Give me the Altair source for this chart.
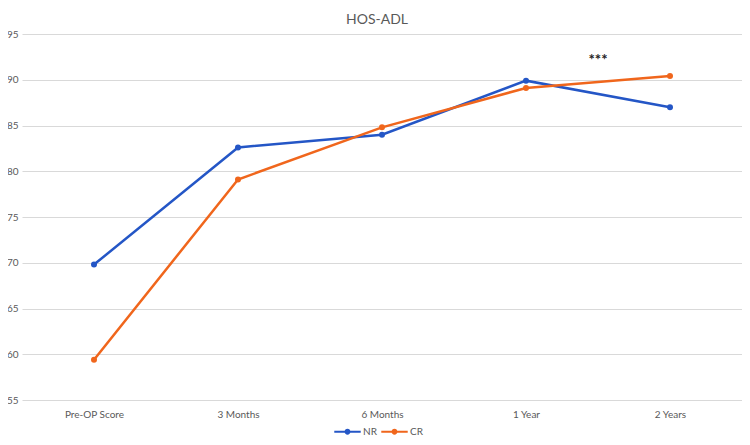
import json
import altair as alt
import pandas as pd

categories = ["Pre-OP Score", "3 Months", "6  Months", "1 Year", "2 Years"]
nr_values = [69.8, 82.6, 84.0, 89.9, 87.0]
cr_values = [59.4, 79.1, 84.8, 89.1, 90.4]
series_names = ["NR", "CR"]
series_colors = ["#2456C6", "#F0661C"]
y_ticks = [55, 60, 65, 70, 75, 80, 85, 90, 95]
annotation_text = ["***"]
annotation_x = [3.5]
annotation_y = [92.2]

rows = []
for i, c in enumerate(categories):
    rows.append({"idx": i, "cat": c, "series": "NR", "value": nr_values[i]})
    rows.append({"idx": i, "cat": c, "series": "CR", "value": cr_values[i]})
df = pd.DataFrame(rows)
ann = pd.DataFrame({"x": annotation_x, "y": annotation_y, "t": annotation_text})

FONT = "Lato"
GREY = "#595959"
label_expr = json.dumps(categories) + "[datum.value]"

x_enc = alt.X(
    "idx:Q",
    scale=alt.Scale(domain=[-0.5, 4.5], nice=False, zero=False),
    axis=alt.Axis(values=list(range(len(categories))), labelExpr=label_expr,
                  grid=False, ticks=False, domain=False, title=None,
                  labelColor=GREY, labelFontSize=10, labelFont=FONT, labelPadding=9),
)
y_enc = alt.Y(
    "value:Q",
    scale=alt.Scale(domain=[55, 95], nice=False, zero=False),
    axis=alt.Axis(values=y_ticks, grid=True, gridColor="#d9d9d9", gridWidth=1,
                  ticks=False, domain=False, title=None, labelColor=GREY,
                  labelFontSize=10, labelFont=FONT, labelPadding=4),
)

legend_symbol = ("M-1,-0.07L1,-0.07L1,0.07L-1,0.07Z "
                 "M-0.22,0A0.22,0.22 0 1,1 0.22,0A0.22,0.22 0 1,1 -0.22,0Z")

color_enc = alt.Color(
    "series:N",
    scale=alt.Scale(domain=series_names, range=series_colors),
    sort=series_names,
    legend=alt.Legend(title=None, orient="none", direction="horizontal",
                      legendX=312, legendY=384, symbolType=legend_symbol,
                      symbolSize=700, symbolStrokeWidth=0, labelFont=FONT,
                      labelFontSize=10, labelColor=GREY, columnPadding=4,
                      labelOffset=2),
)

lines = alt.Chart(df).mark_line(strokeWidth=2.5).encode(
    x=x_enc, y=y_enc, color=color_enc, detail="series:N")
points = alt.Chart(df).mark_circle(size=36, opacity=1).encode(
    x="idx:Q", y="value:Q", color=alt.Color("series:N", legend=None,
                                            scale=alt.Scale(domain=series_names, range=series_colors)))
text = alt.Chart(ann).mark_text(font=FONT, fontSize=15, fontWeight="bold", color="#222222").encode(
    x="x:Q", y="y:Q", text="t:N")

chart = alt.layer(lines, points, text).properties(
    width=720, height=366,
    title=alt.Title("HOS-ADL", font=FONT, fontSize=14, fontWeight="normal",
                    color=GREY, anchor="middle", dx=-5, offset=2),
    autosize=alt.AutoSizeParams(type="none"),
    padding={"left": 14, "top": 26, "right": 0, "bottom": 37},
).configure_view(stroke=None)

chart.save("out.html", embed_options={"renderer": "svg", "actions": False})
